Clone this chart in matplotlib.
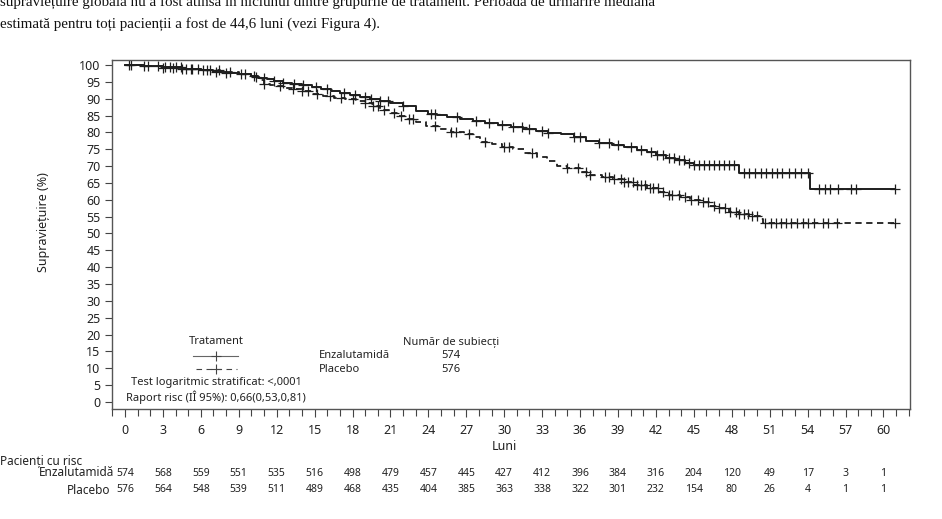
import numpy as np
import matplotlib
matplotlib.use('Agg')
import matplotlib.pyplot as plt
from matplotlib.lines import Line2D
from matplotlib.ticker import MultipleLocator
import matplotlib.transforms as mtransforms

plt.rcParams['font.family'] = ['Noto Sans', 'DejaVu Sans']

# Kaplan-Meier steps (months, survival %)
enz_t = [0, 1.5, 3, 4.5, 6, 7, 8, 9, 10, 10.5, 11.2, 11.8, 12.5, 13.2, 14, 14.8,
         15.5, 16.3, 17, 17.8, 18.6, 19.4, 20.2, 21, 22, 23, 24, 24.7, 25.5, 26.5,
         27.5, 28.5, 29.5, 30.5, 31.5, 32.5, 33.5, 34.5, 35.5, 36.5, 37.5, 38.5,
         39.5, 40.5, 41.3, 42, 42.8, 43.5, 44.3, 45, 48.6, 54.2, 60.9]
enz_s = [100, 99.6, 99.3, 98.8, 98.4, 97.9, 97.6, 97.3, 96.8, 96.3, 95.8, 95.3,
         94.8, 94.5, 94.1, 93.5, 93.0, 92.4, 91.8, 91.2, 90.6, 90.0, 89.3, 88.8,
         87.8, 86.5, 85.5, 85.2, 84.6, 84.0, 83.4, 82.8, 82.2, 81.6, 81.1, 80.5,
         79.9, 79.4, 78.5, 77.5, 76.9, 76.3, 75.7, 74.9, 74.1, 73.3, 72.5, 71.8,
         71.0, 70.3, 68.1, 63.2, 63.2]

pla_t = [0, 1.5, 3, 4.5, 6, 7.5, 9, 10, 10.6, 11, 11.5, 12, 12.6, 13.2, 14, 14.8,
         15.7, 16.5, 17.4, 18.3, 19, 19.6, 20.2, 21, 21.6, 22.3, 23, 23.8, 24.9,
         25.8, 26.8, 27.5, 28.1, 29, 29.8, 30.7, 31.6, 32.6, 33.4, 34.2, 35, 36,
         36.8, 37.7, 38.6, 39.4, 40.3, 41.3, 42.3, 43, 43.9, 44.7, 45.5, 46.2, 47,
         47.8, 48.6, 49.4, 50.2, 50.5, 60.9]
pla_s = [100, 99.7, 99.2, 98.8, 98.4, 98.0, 97.4, 96.6, 95.6, 94.3, 94.0, 93.7,
         93.3, 92.8, 92.2, 91.4, 90.8, 90.2, 89.8, 89.3, 88.6, 87.9, 86.7, 85.9,
         85.0, 83.9, 83.0, 82.0, 81.0, 80.2, 79.5, 78.6, 77.3, 76.5, 75.8, 75.0,
         73.9, 72.6, 71.4, 70.1, 69.3, 68.4, 67.5, 66.8, 66.2, 65.3, 64.4, 63.5,
         62.2, 61.4, 60.7, 60.0, 59.3, 58.3, 57.5, 56.3, 55.8, 55.2, 54.4, 53.0, 53.0]

# censored observations (months)
enz_cens = [0.3, 1.5, 2.6, 3.2, 3.6, 4.0, 4.4, 4.8, 5.3, 6.2, 6.7, 7.2, 8.0, 9.5,
            10.2, 11.0, 11.8, 12.5, 13.4, 14.1, 15.1, 16.0, 17.3, 18.2, 19.0, 19.5,
            20.2, 20.8, 22.0, 24.2, 24.5, 26.3, 27.8, 28.8, 29.8, 30.7, 31.4, 32.0,
            33.0, 33.5, 35.5, 36.0, 37.5, 38.3, 39.0, 40.0, 40.8, 41.6, 42.1, 42.6,
            43.0, 43.4, 43.8, 44.2, 44.6, 45.0, 45.4, 45.8, 46.2, 46.6, 47.0, 47.4,
            47.8, 48.2, 49.0, 49.4, 49.8, 50.3, 50.7, 51.2, 51.6, 52.0, 52.5, 53.0,
            53.5, 54.0, 54.9, 55.4, 55.8, 56.4, 57.4, 57.8, 60.9]
pla_cens = [0.5, 1.8, 3.0, 3.8, 4.5, 5.2, 5.8, 6.5, 7.4, 8.3, 9.2, 10.4, 11.0, 12.3,
            13.3, 14.0, 14.5, 15.2, 16.2, 17.1, 18.0, 19.0, 19.6, 20.0, 20.5, 21.3,
            21.8, 22.5, 22.8, 24.5, 25.8, 26.2, 27.2, 28.5, 30.0, 30.4, 32.2, 35.0,
            35.8, 36.5, 36.8, 38.0, 38.3, 38.7, 39.2, 39.5, 39.8, 40.2, 40.5, 40.8,
            41.1, 41.5, 41.8, 42.2, 42.6, 43.0, 43.3, 43.8, 44.3, 44.8, 45.3, 45.7,
            46.1, 46.6, 47.0, 47.5, 47.9, 48.3, 48.6, 49.0, 49.3, 49.6, 50.0, 50.6,
            51.1, 51.5, 51.9, 52.3, 52.7, 53.2, 53.6, 54.0, 54.5, 55.2, 55.6, 56.3,
            60.9]

risk_months = list(range(0, 61, 3))
enz_risk = [574, 568, 559, 551, 535, 516, 498, 479, 457, 445, 427, 412, 396, 384,
            316, 204, 120, 49, 17, 3, 1]
pla_risk = [576, 564, 548, 539, 511, 489, 468, 435, 404, 385, 363, 338, 322, 301,
            232, 154, 80, 26, 4, 1, 1]

W, H = 942, 519
fig = plt.figure(figsize=(W / 100, H / 100), dpi=100)


def px(x, y):
    return x / W, 1 - y / H


ax = fig.add_axes([111.7 / W, (H - 409) / H, (910 - 111.7) / W, (409 - 60) / H])
ink = '#1e1e1e'
txt = '#222222'


def step_at(t, s, x):
    idx = np.searchsorted(np.asarray(t), np.asarray(x), side='right') - 1
    return np.asarray(s)[idx]


ax.step(enz_t, enz_s, where='post', color=ink, lw=1.4)
ax.step(pla_t, pla_s, where='post', color=ink, lw=1.3, dashes=(3.5, 2.5))
ax.plot(enz_cens, step_at(enz_t, enz_s, enz_cens), ls='none', marker='+',
        ms=7, mew=0.9, color=ink)
ax.plot(pla_cens, step_at(pla_t, pla_s, pla_cens), ls='none', marker='+',
        ms=7, mew=0.9, color=ink)

ax.set_xlim(-1.05, 62.1)
ax.set_ylim(-2.1, 101.5)
ax.xaxis.set_major_locator(MultipleLocator(3))
ax.xaxis.set_minor_locator(MultipleLocator(1))
ax.yaxis.set_major_locator(MultipleLocator(5))
ax.tick_params(which='both', direction='out', color='#444444', width=0.8,
               labelsize=9, labelcolor=txt)
ax.tick_params(axis='x', which='major', length=6, pad=5)
ax.tick_params(axis='x', which='minor', length=5)
ax.tick_params(axis='y', length=5, pad=3)
for sp in ax.spines.values():
    sp.set_color('#555555')
    sp.set_linewidth(1.0)

fig.text(*px(43, 222), 'Supraviețuire (%)', rotation=90, ha='center',
         va='center', fontsize=9, color=txt)

# x label and risk table
bt = mtransforms.blended_transform_factory(ax.transData, fig.transFigure)
ax.text(30, px(0, 447)[1], 'Luni', transform=bt, ha='center', va='center',
        fontsize=9, fontweight='bold', color=txt)
fig.text(*px(0, 461), 'Pacienți cu risc', ha='left', va='center', fontsize=8.5,
         color=txt)
fig.text(*px(114, 473), 'Enzalutamidă', ha='right', va='center', fontsize=8.5,
         color=txt)
fig.text(*px(110, 490), 'Placebo', ha='right', va='center', fontsize=8.5,
         color=txt)
for m, a, b in zip(risk_months, enz_risk, pla_risk):
    ax.text(m, px(0, 473)[1], str(a), transform=bt, ha='center', va='center',
            fontsize=7.5, color=txt)
    ax.text(m, px(0, 490)[1], str(b), transform=bt, ha='center', va='center',
            fontsize=7.5, color=txt)

# in-plot legend block
fs = 8
fig.text(*px(216, 342), 'Tratament', ha='center', va='center', fontsize=fs,
         color=txt)
fig.add_artist(Line2D([193 / W, 238 / W], [px(0, 356)[1]] * 2, color='#666666',
                      lw=0.8))
fig.add_artist(Line2D([215.5 / W], [px(0, 356)[1]], marker='+', ms=7, mew=0.8,
                      color='#444444'))
fig.add_artist(Line2D([196 / W, 237 / W], [px(0, 369)[1]] * 2, color='#444444',
                      lw=0.8, dashes=(5, 4)))
fig.add_artist(Line2D([215.5 / W], [px(0, 369)[1]], marker='+', ms=7, mew=0.8,
                      color='#444444'))
fig.text(*px(319, 356), 'Enzalutamidă', ha='left', va='center', fontsize=fs,
         color=txt)
fig.text(*px(319, 369), 'Placebo', ha='left', va='center', fontsize=fs,
         color=txt)
fig.text(*px(451, 342), 'Număr de subiecți', ha='center', va='center',
         fontsize=fs, color=txt)
fig.text(*px(451, 355), '574', ha='center', va='center', fontsize=fs,
         color=txt)
fig.text(*px(451, 369), '576', ha='center', va='center', fontsize=fs,
         color=txt)
fig.text(*px(216, 383), 'Test logaritmic stratificat: <,0001', ha='center',
         va='center', fontsize=fs, color=txt)
fig.text(*px(216, 397), 'Raport risc (IÎ 95%): 0,66(0,53,0,81)', ha='center',
         va='center', fontsize=fs, color=txt)

# surrounding document text (first line is cut by the page edge, as in the source)
fig.text(*px(0, 6), 'supraviețuire globală nu a fost atinsă în niciunul dintre '
         'grupurile de tratament. Perioada de urmărire mediană',
         ha='left', va='baseline', fontsize=10.8, family='Liberation Serif',
         color='#111111')
fig.text(*px(0, 28), 'estimată pentru toți pacienții a fost de 44,6 luni '
         '(vezi Figura 4).', ha='left', va='baseline', fontsize=10.8,
         family='Liberation Serif', color='#111111')

fig.savefig('out.png', dpi=100)
